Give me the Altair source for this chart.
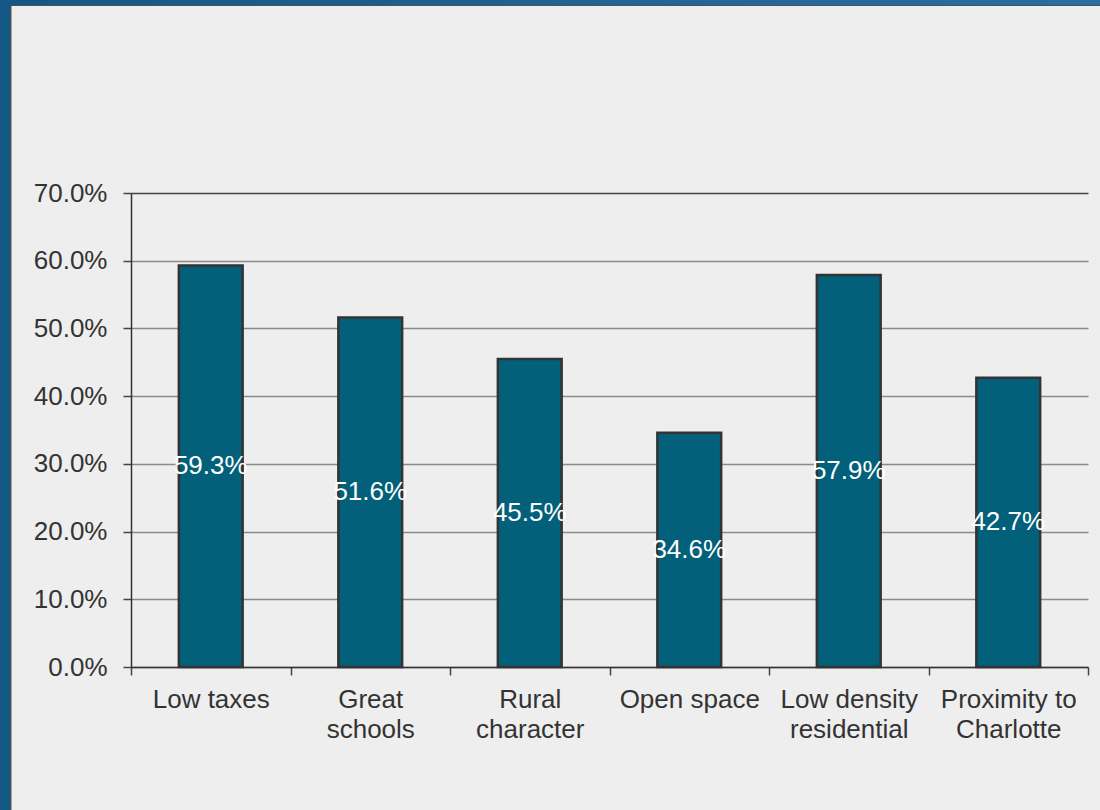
import altair as alt
import pandas as pd

# ---- data ----
categories = ["Low taxes", "Great|schools", "Rural|character", "Open space",
              "Low density|residential", "Proximity to|Charlotte"]
values = [0.593, 0.516, 0.455, 0.346, 0.579, 0.427]
y_ticks = [0.0, 0.1, 0.2, 0.3, 0.4, 0.5, 0.6, 0.7]

df = pd.DataFrame({"category": categories, "value": values})
one = pd.DataFrame({"k": [0]})

W, H = 957, 474
PAD_L, PAD_T, PAD_R, PAD_B = 131, 193, 12, 143
FONT = "Liberation Sans"
TXT = "#333333"
BAR = "#02607a"

x_enc = alt.X(
    "category:N", sort=categories,
    scale=alt.Scale(paddingInner=0, paddingOuter=0),
    axis=alt.Axis(title=None, labelAngle=0,
                  labelExpr="isValid(datum.value) ? split(datum.value, '|') : ''",
                  labelFont=FONT, labelFontSize=26, labelColor=TXT,
                  labelPadding=11, labelLineHeight=30, labelBaseline="top",
                  tickBand="extent", tickSize=8, tickColor="#444", tickWidth=1.5,
                  domainColor="#333", domainWidth=1.5, labelLimit=300),
)

y_axis = alt.Axis(
    title=None, values=y_ticks, format=".1%",
    labelFont=FONT, labelFontSize=26, labelColor=TXT, labelPadding=16,
    tickSize=8, tickColor="#444", tickWidth=1.5,
    domainColor="#333", domainWidth=1.5,
    grid=True, gridWidth=1.5,
    gridColor={"condition": {"test": "datum.value >= 0.69", "value": "#444444"},
               "value": "#8a8a8a"},
)

bars = alt.Chart(df).mark_bar(
    color=BAR, stroke="#333333", strokeWidth=2.5, width=alt.RelativeBandSize(0.4)
).encode(
    x=x_enc,
    y=alt.Y("value:Q", scale=alt.Scale(domain=[0, 0.7], nice=False), axis=y_axis),
)

labels = alt.Chart(df).transform_calculate(
    mid="datum.value / 2"
).mark_text(
    color="white", font=FONT, fontSize=26, baseline="middle", align="center"
).encode(
    x=alt.X("category:N", sort=categories),
    y=alt.Y("mid:Q"),
    text=alt.Text("value:Q", format=".1%"),
)

# ---- frame decoration (blue border of the slide) ----
left_strip = alt.Chart(one).mark_rect(fill="#135884").encode(
    x=alt.value(-PAD_L), x2=alt.value(-PAD_L + 10),
    y=alt.value(-PAD_T), y2=alt.value(H + PAD_B))
top_strip = alt.Chart(one).mark_rect(
    fill=alt.Gradient(gradient="linear",
                      stops=[alt.GradientStop(color="#165686", offset=0),
                             alt.GradientStop(color="#2870a0", offset=1)],
                      x1=0, x2=1, y1=0, y2=0)
).encode(
    x=alt.value(-PAD_L), x2=alt.value(W + PAD_R),
    y=alt.value(-PAD_T), y2=alt.value(-PAD_T + 5))
left_line = alt.Chart(one).mark_rect(fill="#505050").encode(
    x=alt.value(-PAD_L + 10), x2=alt.value(-PAD_L + 11.5),
    y=alt.value(-PAD_T + 5), y2=alt.value(H + PAD_B))
top_line = alt.Chart(one).mark_rect(fill="#505050").encode(
    x=alt.value(-PAD_L + 10), x2=alt.value(W + PAD_R),
    y=alt.value(-PAD_T + 5), y2=alt.value(-PAD_T + 6))

chart = alt.layer(
    left_strip, top_strip, left_line, top_line, bars, labels
).properties(
    width=W, height=H, background="#eeeeee",
    padding={"left": PAD_L, "top": PAD_T, "right": PAD_R, "bottom": PAD_B},
    autosize=alt.AutoSizeParams(type="none"),
).configure_view(stroke=None)

chart.save("out.html", embed_options={"renderer": "svg", "actions": False})
